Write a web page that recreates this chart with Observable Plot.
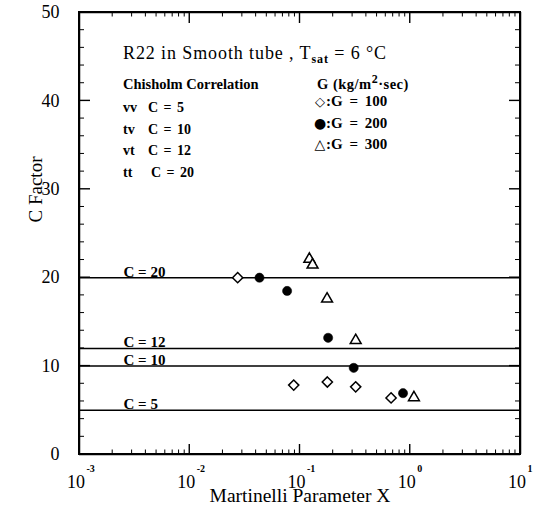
<!DOCTYPE html>
<html><head><meta charset="utf-8">
<script src="https://cdn.jsdelivr.net/npm/d3@7"></script>
<script src="https://cdn.jsdelivr.net/npm/@observablehq/plot@0.6"></script>
<style>body{margin:0;background:#fff}</style>
</head><body><div id="chart"></div>
<script>
// ---- data ----
const g100X = [0.0272, 0.0877, 0.177, 0.32, 0.67];
const g100C = [20.0, 7.85, 8.2, 7.65, 6.4];
const g200X = [0.0429, 0.0764, 0.180, 0.307, 0.86];
const g200C = [20.0, 18.5, 13.2, 9.8, 6.94];
const g300X = [0.1216, 0.130, 0.176, 0.32, 1.08];
const g300C = [22.1, 21.45, 17.6, 12.9, 6.44];
const chisholmRegimes = ["vv", "tv", "vt", "tt"];
const chisholmC = [5, 10, 12, 20];
const massFluxes = [100, 200, 300];
const legendGlyphs = ["◇", "●", "△"];
const xDomain = [1e-3, 10];
const yDomain = [0, 50];
const xDecades = [1e-3, 1e-2, 1e-1, 1, 10];
const xExponents = ["-3", "-2", "-1", "0", "1"];
const xMinorMult = [2, 3, 4, 5, 6, 7, 8, 9];
const yMajor = [0, 10, 20, 30, 40, 50];
const yMinor = [2, 4, 6, 8, 12, 14, 16, 18, 22, 24, 26, 28, 32, 34, 36, 38, 42, 44, 46, 48];
const xMinor = xDecades.slice(0, -1).flatMap(d => xMinorMult.map(m => d * m));

const pts = (X, C) => X.map((x, i) => ({x, c: C[i]}));
const font = "Liberation Serif";

// filled thin bars for frame edges and inward ticks
const vBar = (data, yv, len, w) => Plot.rect(data, {x1: d => d, x2: d => d, y1: yv, y2: yv,
  insetLeft: -w / 2, insetRight: -w / 2,
  ...(yv === yDomain[0] ? {insetTop: -len} : {insetBottom: -len}), fill: "black"});
const hBar = (data, xv, len, w) => Plot.rect(data, {y1: d => d, y2: d => d, x1: xv, x2: xv,
  insetTop: -w / 2, insetBottom: -w / 2,
  ...(xv === xDomain[0] ? {insetRight: -len} : {insetLeft: -len}), fill: "black"});

const plot = Plot.plot({
  width: 536, height: 515,
  marginLeft: 79, marginRight: 16, marginTop: 12, marginBottom: 61,
  style: {fontFamily: font, background: "white", color: "black"},
  x: {type: "log", domain: xDomain, axis: null},
  y: {domain: yDomain},
  marks: [
    Plot.ruleY(chisholmC, {y: d => d, stroke: "black", strokeWidth: 1.5}),
    // frame (filled edges + stroked rules)
    Plot.rect([0], {x1: xDomain[0], x2: xDomain[1], y1: yDomain[0], y2: yDomain[0], insetTop: -1, insetBottom: -1, insetLeft: -1, insetRight: -1, fill: "black"}),
    Plot.rect([0], {x1: xDomain[0], x2: xDomain[1], y1: yDomain[1], y2: yDomain[1], insetTop: -1, insetBottom: -1, insetLeft: -1, insetRight: -1, fill: "black"}),
    Plot.rect([0], {x1: xDomain[0], x2: xDomain[0], y1: yDomain[0], y2: yDomain[1], insetLeft: -1, insetRight: -1, fill: "black"}),
    Plot.rect([0], {x1: xDomain[1], x2: xDomain[1], y1: yDomain[0], y2: yDomain[1], insetLeft: -1, insetRight: -1, fill: "black"}),
    Plot.ruleX(xDomain, {x: d => d, stroke: "black", strokeWidth: 1.5}),
    Plot.ruleY(yDomain, {y: d => d, stroke: "black", strokeWidth: 1.5}),
    // inward ticks
    vBar(xMinor, yDomain[0], 4.5, 1),
    vBar(xDecades, yDomain[0], 10, 1.4),
    vBar(xMinor, yDomain[1], 4.5, 1),
    vBar(xDecades, yDomain[1], 11, 1.4),
    hBar(yMinor, xDomain[0], 5, 1),
    hBar(yMajor, xDomain[0], 11, 1.4),
    hBar(yMinor, xDomain[1], 5, 1),
    hBar(yMajor, xDomain[1], 11, 1.4),
    // axis labels
    Plot.axisY({ticks: yMajor, tickSize: 0, tickPadding: 20, fontSize: 18, label: null}),
    Plot.text(["C Factor"], {frameAnchor: "left", rotate: -90, dx: -44, dy: -11, fontSize: 19}),
    Plot.text(xDecades, {x: d => d, y: yDomain[0], text: () => "10", dx: -3.5, dy: 28, fontSize: 18}),
    Plot.text(xDecades, {x: d => d, y: yDomain[0], text: (d, i) => xExponents[i], dx: 7, dy: 14, fontSize: 10, fontWeight: "bold", textAnchor: "start"}),
    Plot.text(["Martinelli Parameter X"], {frameAnchor: "bottom", dy: 47, fontSize: 19.5}),
    // line labels
    Plot.text(chisholmC, {x: xDomain[0], y: d => d, text: d => `C = ${d}`, textAnchor: "start", dx: 44, dy: -6, fontSize: 15, fontWeight: "bold"}),
    // data
    Plot.dot(pts(g100X, g100C), {x: "x", y: "c", symbol: "diamond2", r: 4.6, stroke: "black", strokeWidth: 1.5, fill: "white"}),
    Plot.dot(pts(g200X, g200C), {x: "x", y: "c", symbol: "circle", r: 4.6, fill: "black", stroke: "black", strokeWidth: 0.5}),
    Plot.dot(pts(g300X, g300C), {x: "x", y: "c", symbol: "triangle2", r: 5.2, stroke: "black", strokeWidth: 1.5, fill: "white"})
  ]
});
document.getElementById("chart").appendChild(plot);

// ---- annotations (text with sub/superscripts) ----
const svg = d3.select(plot);
const ann = svg.append("g").attr("font-family", font).attr("fill", "black").attr("text-anchor", "start");
const t1 = ann.append("text").attr("x", 123).attr("y", 59).attr("font-size", 18).attr("letter-spacing", 0.9);
t1.append("tspan").text("R22 in Smooth tube , T");
t1.append("tspan").attr("font-size", 12).attr("font-weight", "bold").attr("dy", 4).text("sat");
t1.append("tspan").attr("dy", -4).text(" = 6 °C");

ann.append("text").attr("x", 123).attr("y", 89).attr("font-size", 14.5).attr("font-weight", "bold").text("Chisholm Correlation");
const rowY = [112, 133.5, 155, 177];
chisholmRegimes.forEach((r, i) => {
  ann.append("text").attr("x", 123).attr("y", rowY[i]).attr("font-size", 14).attr("font-weight", "bold").text(r);
  ann.append("text").attr("x", r === "tt" ? 151 : 148).attr("y", rowY[i]).attr("font-size", 14).attr("font-weight", "bold").attr("word-spacing", 2).text(`C = ${chisholmC[i]}`);
});
const gt = ann.append("text").attr("x", 317).attr("y", 89).attr("font-size", 14.5).attr("font-weight", "bold").attr("letter-spacing", 0.5);
gt.append("tspan").text("G (kg/m");
gt.append("tspan").attr("dy", -6).attr("font-size", 12).text("2");
gt.append("tspan").attr("dy", 6).text("·sec)");
const legY = [106, 127.5, 149];
const glyphSize = [13, 14, 14];
massFluxes.forEach((g, i) => {
  ann.append("text").attr("x", 320).attr("y", legY[i]).attr("text-anchor", "middle").attr("font-family", "DejaVu Sans").attr("font-size", glyphSize[i]).text(legendGlyphs[i]);
  ann.append("text").attr("x", 326).attr("y", legY[i]).attr("font-size", 15).attr("font-weight", "bold").attr("word-spacing", 3).text(`:G = ${g}`);
});
</script>
</body></html>
